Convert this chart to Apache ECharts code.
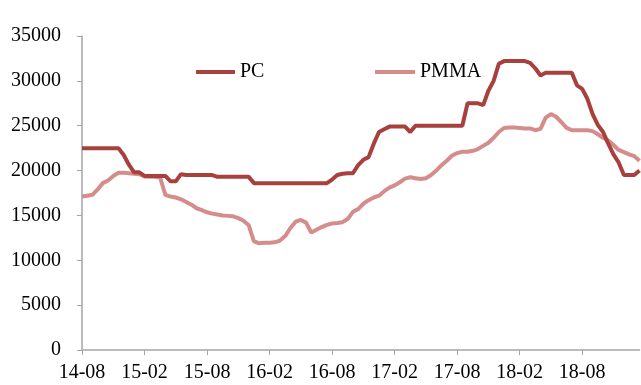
<!DOCTYPE html>
<html>
<head>
<meta charset="utf-8">
<script src="https://cdn.jsdelivr.net/npm/echarts@6/dist/echarts.min.js"></script>
<style>html,body{margin:0;padding:0;background:#fff}#c{width:641px;height:385px}</style>
</head>
<body>
<div id="c"></div>
<script>
// half-monthly categories from 2014-08 to 2019-01
var categories = [];
(function(){
  var y = 2014, m = 8;
  for (var k = 0; k < 54; k++) {
    var yy = String(y).slice(2), mm = (m < 10 ? '0' : '') + m;
    categories.push(yy + '-' + mm);
    categories.push(yy + '-' + mm + '-16');
    m++; if (m > 12) { m = 1; y++; }
  }
})();

var pcValues = [
  22500,22500,22500,22500,22500,22500,22500,22500,21730,20650,
  19800,19800,19400,19400,19400,19400,19400,18800,18800,19600,
  19500,19500,19500,19500,19500,19500,19300,19300,19300,19300,
  19300,19300,19300,18600,18600,18600,18600,18600,18600,18600,
  18600,18600,18600,18600,18600,18600,18600,18600,19000,19500,
  19650,19700,19700,20600,21200,21500,23000,24300,24600,24900,
  24900,24900,24900,24300,25000,25000,25000,25000,25000,25000,
  25000,25000,25000,25000,27500,27500,27500,27300,28900,30000,
  31900,32200,32200,32200,32200,32200,32000,31400,30600,30900,
  30900,30900,30900,30900,30900,29500,29100,28000,26300,25100,
  24300,23000,21800,20900,19500,19500,19500,20000
];

var pmmaValues = [
  17100,17200,17300,17900,18600,18900,19400,19750,19750,19700,
  19650,19600,19350,19300,19300,19200,17300,17100,17000,16800,
  16500,16200,15800,15600,15350,15200,15100,15000,14950,14900,
  14700,14400,13900,12100,11900,11950,11950,12000,12200,12700,
  13600,14300,14500,14200,13100,13400,13700,13950,14100,14150,
  14250,14600,15400,15700,16300,16700,17000,17200,17700,18100,
  18350,18700,19100,19250,19150,19050,19150,19500,20000,20600,
  21100,21650,21950,22100,22100,22200,22400,22750,23100,23650,
  24300,24750,24800,24800,24750,24700,24700,24500,24650,25900,
  26300,26000,25400,24750,24500,24500,24500,24500,24400,24050,
  23650,23350,22850,22300,22050,21800,21600,21100
];

var yMin = 0, yMax = 35000, yInterval = 5000;
var seriesNames = ['PC', 'PMMA'];
var colors = ['#A8403D', '#D58D8B'];

var chart = echarts.init(document.getElementById('c'), null, {renderer: 'canvas'});
var font = '"Liberation Serif", "Times New Roman", serif';
var labelEvery = function (index) { return index % 12 === 0; };

chart.setOption({
  animation: false,
  backgroundColor: '#ffffff',
  textStyle: {fontFamily: font},
  grid: {left: 82, right: 1.5, top: 36, bottom: 35, containLabel: false},
  legend: [
    {data: [seriesNames[0]], left: 196, top: 62, padding: 0, icon: 'rect', itemWidth: 39, itemHeight: 4, itemGap: 5,
     textStyle: {fontFamily: font, fontSize: 20, color: '#000'}},
    {data: [seriesNames[1]], left: 375, top: 62, padding: 0, icon: 'rect', itemWidth: 40, itemHeight: 4, itemGap: 5,
     textStyle: {fontFamily: font, fontSize: 20, color: '#000'}}
  ],
  xAxis: {
    type: 'category',
    data: categories,
    boundaryGap: false,
    axisLine: {lineStyle: {color: '#A6A6A6', width: 1.5}},
    axisTick: {interval: labelEvery, length: 5, lineStyle: {color: '#A6A6A6'}},
    axisLabel: {interval: labelEvery, margin: 13, fontFamily: font, fontSize: 20, color: '#000',
      formatter: function (v) { return v.slice(0, 5); }},
    splitLine: {show: false}
  },
  yAxis: {
    type: 'value',
    min: yMin, max: yMax, interval: yInterval,
    axisLine: {show: true, lineStyle: {color: '#A6A6A6', width: 1.5}},
    axisTick: {show: true, length: 5, lineStyle: {color: '#A6A6A6'}},
    axisLabel: {margin: 21, fontFamily: font, fontSize: 20, color: '#000',
      formatter: function (v) { return String(v); }},
    splitLine: {show: false}
  },
  series: [
    {name: seriesNames[0], type: 'line', data: pcValues, symbol: 'none', color: colors[0],
     lineStyle: {width: 4, color: colors[0]}, z: 3},
    {name: seriesNames[1], type: 'line', data: pmmaValues, symbol: 'none', color: colors[1],
     lineStyle: {width: 4, color: colors[1]}, z: 2}
  ]
});
</script>
</body>
</html>
